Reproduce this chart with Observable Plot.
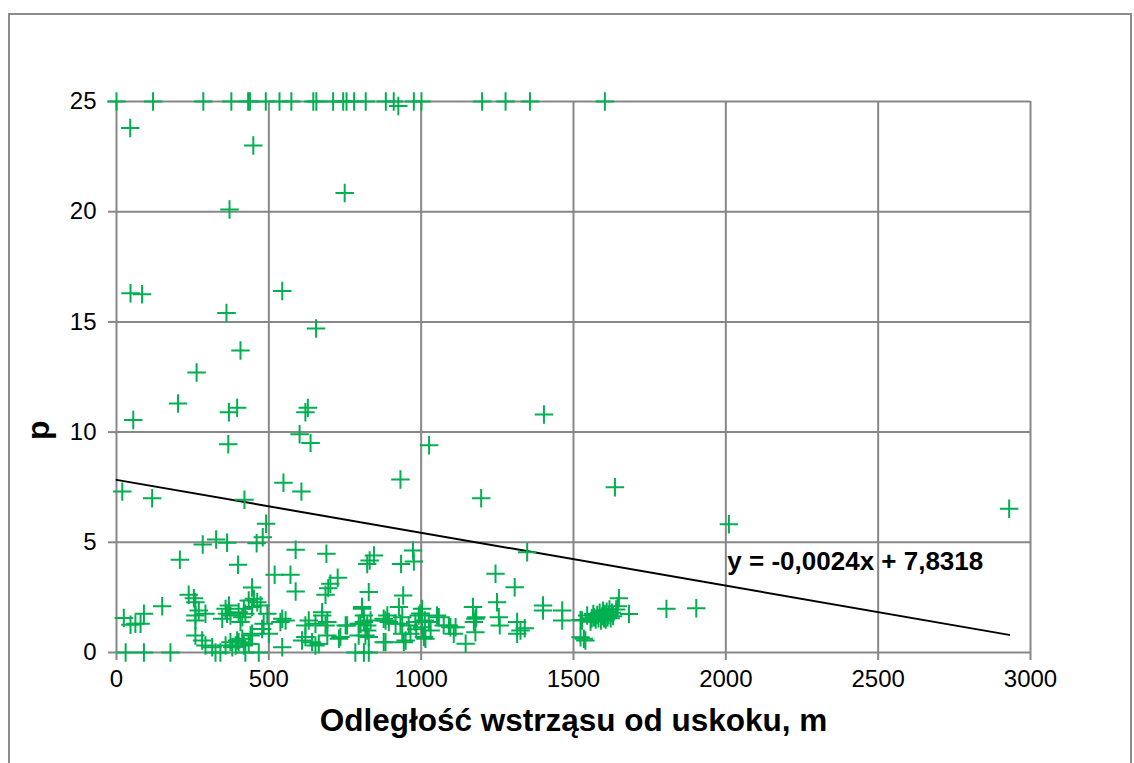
<!DOCTYPE html>
<html>
<head>
<meta charset="utf-8">
<script src="https://cdn.jsdelivr.net/npm/d3@7"></script>
<script src="https://cdn.jsdelivr.net/npm/@observablehq/plot@0.6"></script>
<style>
  body { margin: 0; background: #fff; font-family: "Liberation Sans", Arial, sans-serif; }
  #frame { position: absolute; left: 8px; top: 13px; width: 1124px; height: 760px;
           border: 2px solid #8c8c8c; border-bottom: none; box-sizing: border-box; }
  #chart { position: absolute; left: 0; top: 0; }
</style>
</head>
<body>
<div id="frame"></div>
<div id="chart"></div>
<script>
// Odległość wstrząsu od uskoku [m] i wartość p dla każdego wstrząsu
const distance = [
  // p = 25 (górny pas)
  0,120,285,377,432,438,490,535,574,646,656,711,744,755,780,818,884,910,925,976,1001,1200,1277,1357,1603,
  // wyższe wartości
  45,449,749,371,46,84,544,361,655,407,263,202,55,396,369,628,620,601,637,367,1026,1403,1636,2010,2930,
  // środkowy zakres
  19,117,420,548,607,932,1197,491,480,460,283,327,363,208,399,588,689,519,571,588,445,726,702,695,686,
  1348,973,976,934,845,831,823,1244,1307,828,941,
  // 900–1500 m
  1003,992,981,959,1025,1058,1014,949,938,1003,1074,1091,1113,1107,1170,1178,1178,1146,1249,1255,1258,
  1315,1326,1315,1340,1400,1400,1463,1463,927,916,965,1009,1031,1052,1096,1173,1181,984,1012,997,
  // skupienie 1500–1900 m
  1534,1523,1567,1649,1682,1805,1903,1545,1528,1539,1523,1556,1560,1565,1573,1578,1582,1586,1590,1594,
  1597,1600,1603,1606,1609,1612,1615,1618,1622,1626,1630,1640,1645,
  // gęste skupienie 0–950 m
  237,254,259,270,292,259,259,150,90,24,62,46,79,451,462,434,445,473,369,358,363,347,374,401,413,418,
  423,407,495,483,500,538,544,555,631,620,653,675,686,692,675,752,806,812,795,823,817,883,894,877,938,
  932,943,806,812,834,889,823,801,757,735,
  // blisko zera
  259,281,292,314,374,391,358,396,380,413,418,423,401,434,440,478,445,544,620,609,642,653,664,730,692,
  795,828,812,883,877,30,90,177,325,341,467,784,828
];
const pValue = [
  25,25,25,25,25,25,25,25,25,25,25,25,25,25,25,25,25,25,24.8,25,25,25,25,25,25,
  23.8,23.0,20.85,20.1,16.3,16.25,16.4,15.4,14.7,13.7,12.7,11.3,10.55,11.1,10.9,11.1,10.9,9.9,9.5,9.45,9.4,10.8,7.5,5.82,6.52,
  7.3,7.0,6.93,7.7,7.3,7.85,7.0,5.84,5.23,4.96,4.9,5.13,4.98,4.21,3.98,4.66,4.48,3.53,3.53,2.77,2.95,3.39,3.12,2.92,2.62,
  4.55,4.63,4.13,4.02,4.4,4.17,4.02,3.57,2.96,2.74,2.59,
  1.98,1.68,1.38,1.23,1.38,1.6,0.62,0.54,0.85,1.15,1.23,1.23,1.15,0.85,2.06,1.53,0.92,0.4,2.28,1.6,1.23,
  1.38,1.0,0.85,1.1,2.13,1.91,1.91,1.45,2.06,1.3,0.85,0.7,1.0,1.68,1.15,1.38,1.6,1.05,1.45,1.77,
  0.62,1.48,1.6,2.46,1.75,1.98,2.01,1.68,1.45,0.54,0.69,1.4,1.55,1.75,1.5,1.7,1.55,1.8,1.45,1.65,
  1.9,1.55,1.75,1.5,1.85,1.6,1.7,1.95,1.55,1.8,1.65,1.95,2.1,
  2.62,2.46,2.28,1.91,1.76,1.68,1.45,2.1,1.76,1.57,1.3,1.26,1.3,2.44,2.28,2.36,2.06,2.13,2.13,1.98,1.76,1.53,1.68,1.83,1.6,1.98,
  1.76,1.38,1.76,1.3,0.85,1.38,1.53,1.45,1.45,1.23,1.3,1.68,1.23,1.38,1.83,1.23,1.98,1.38,1.3,1.23,0.77,1.45,1.38,1.53,1.6,
  1.3,0.47,2.06,1.68,1.45,1.68,1.0,1.3,1.23,0.7,
  0.77,0.54,0.32,0.24,0.47,0.32,0.32,0.54,0.24,0.62,0.32,0,0.47,0.39,0.77,1.07,0.85,0.24,0.7,0.54,0.47,0.32,0.39,0.62,0.77,
  0.77,0.7,0,0.47,0.47,0,0,0,0,0,0,0,0
];

// Linia trendu (regresja liniowa)
const slope = -0.0024;
const intercept = 7.8318;

// Podziałki osi
const xTicks = [0, 500, 1000, 1500, 2000, 2500, 3000];
const yTicks = [0, 5, 10, 15, 20, 25];

const points = distance.map((d, i) => ({x: d, p: pValue[i]}));
const xMax = d3.max(distance);
const trend = [0, xMax].map(x => ({x, p: intercept + slope * x}));
const fmt = v => String(v).replace(".", ",");
const equation = `y = ${fmt(slope)}x + ${fmt(intercept)}`;

const gridColor = "#878787";
const font = "'Liberation Sans', Arial, sans-serif";

const chart = Plot.plot({
  width: 1134,
  height: 763,
  marginLeft: 116,
  marginRight: 104,
  marginTop: 101,
  marginBottom: 111,
  style: {fontFamily: font, fontSize: "24px", color: "#000", background: "transparent", overflow: "visible"},
  x: {domain: [0, 3000]},
  y: {domain: [0, 25]},
  marks: [
    Plot.gridX(xTicks, {stroke: gridColor, strokeOpacity: 1, strokeWidth: 2}),
    Plot.gridY(yTicks, {stroke: gridColor, strokeOpacity: 1, strokeWidth: 2}),
    Plot.axisX(xTicks, {tickSize: 8, tickPadding: 9, tickFormat: d => String(d), stroke: gridColor, strokeWidth: 2, fill: "#000", fontSize: 24, label: null}),
    Plot.axisY(yTicks, {tickSize: 8, tickPadding: 12, tickFormat: d => String(d), stroke: gridColor, strokeWidth: 2, fill: "#000", fontSize: 24, label: null}),
    Plot.line(trend, {x: "x", y: "p", stroke: "#000", strokeWidth: 2}),
    Plot.dot(points, {x: "x", y: "p", symbol: "plus", r: 6, stroke: "#00B050", strokeWidth: 2}),
    Plot.text([equation], {x: 2005, y: 4.1, text: d => d, textAnchor: "start", fontSize: 26, fontWeight: "bold", fill: "#000"}),
    Plot.text(["Odległość wstrząsu od uskoku, m"], {frameAnchor: "bottom", dy: 78, text: d => d, fontSize: 31.5, fontWeight: "bold", fill: "#000"}),
    Plot.text(["p"], {frameAnchor: "left", dx: -78, dy: 63, rotate: -90, text: d => d, fontSize: 32, fontWeight: "bold", fill: "#000"})
  ]
});
document.getElementById("chart").append(chart);
</script>
</body>
</html>
